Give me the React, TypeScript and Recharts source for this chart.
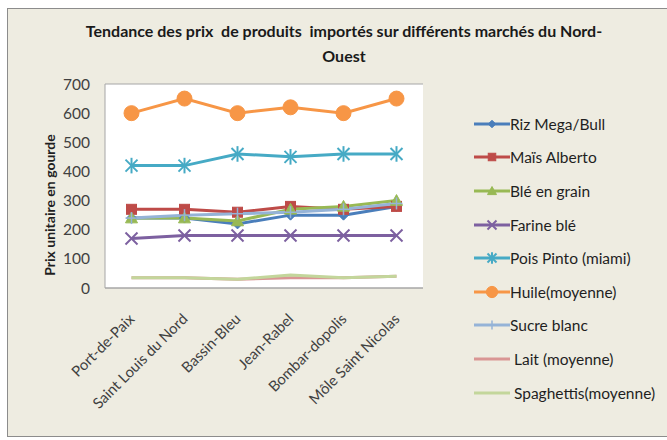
import React from 'react';
import { LineChart, Line, XAxis, YAxis, CartesianGrid, Legend } from 'recharts';

const markets = ['Port-de-Paix', 'Saint Louis du Nord', 'Bassin-Bleu', 'Jean-Rabel', 'Bombar-dopolis', 'Môle Saint Nicolas'];
const rizMegaBull = [240, 240, 220, 250, 250, 280];
const maisAlberto = [270, 270, 260, 280, 270, 280];
const bleEnGrain = [240, 240, 230, 270, 280, 300];
const farineBle = [170, 180, 180, 180, 180, 180];
const poisPinto = [420, 420, 460, 450, 460, 460];
const huileMoyenne = [600, 650, 600, 620, 600, 650];
const sucreBlanc = [240, 250, 255, 260, 270, 290];
const laitMoyenne = [35, 35, 30, 35, 35, 40];
const spaghettisMoyenne = [35, 35, 30, 45, 35, 40];
const yTicks = [0, 100, 200, 300, 400, 500, 600, 700];

const titleLine1 = 'Tendance des prix  de produits  importés sur différents marchés du Nord-';
const titleLine2 = 'Ouest';
const yLabel = 'Prix unitaire en gourde';

type Series = { key: string; name: string; values: number[]; color: string; marker: string };
const series: Series[] = [
  { key: 'riz', name: 'Riz Mega/Bull', values: rizMegaBull, color: '#4A7EBB', marker: 'diamond' },
  { key: 'mais', name: 'Maïs Alberto', values: maisAlberto, color: '#BE4B48', marker: 'square' },
  { key: 'ble', name: 'Blé en grain', values: bleEnGrain, color: '#98B954', marker: 'triangle' },
  { key: 'farine', name: 'Farine blé', values: farineBle, color: '#7D60A0', marker: 'x' },
  { key: 'pois', name: 'Pois Pinto (miami)', values: poisPinto, color: '#46AAC5', marker: 'star' },
  { key: 'huile', name: 'Huile(moyenne)', values: huileMoyenne, color: '#F79646', marker: 'circle' },
  { key: 'sucre', name: 'Sucre blanc', values: sucreBlanc, color: '#95B3D7', marker: 'plus' },
  { key: 'lait', name: ' Lait (moyenne)', values: laitMoyenne, color: '#D99694', marker: 'none' },
  { key: 'spag', name: ' Spaghettis(moyenne)', values: spaghettisMoyenne, color: '#C3D69B', marker: 'none' },
];

const data = markets.map((m, i) => {
  const row: Record<string, string | number> = { market: m };
  series.forEach((s) => { row[s.key] = s.values[i]; });
  return row;
});

const FONT = 'Lato, "Open Sans", sans-serif';

function Marker({ type, cx, cy, color, k }: { type: string; cx: number; cy: number; color: string; k: number }) {
  if (cx == null || cy == null) return null;
  switch (type) {
    case 'diamond': {
      const r = 5 * k;
      return <polygon points={`${cx},${cy - r} ${cx + r},${cy} ${cx},${cy + r} ${cx - r},${cy}`} fill={color} stroke={color} />;
    }
    case 'square': {
      const r = 5 * k;
      return <rect x={cx - r} y={cy - r} width={2 * r} height={2 * r} fill={color} stroke={color} />;
    }
    case 'triangle': {
      const r = 6 * k;
      return <polygon points={`${cx},${cy - r} ${cx + r},${cy + r * 0.8} ${cx - r},${cy + r * 0.8}`} fill={color} stroke={color} />;
    }
    case 'x': {
      const r = 6 * k;
      return (
        <g stroke={color} strokeWidth={2}>
          <line x1={cx - r} y1={cy - r} x2={cx + r} y2={cy + r} />
          <line x1={cx - r} y1={cy + r} x2={cx + r} y2={cy - r} />
        </g>
      );
    }
    case 'star': {
      const r = 6 * k;
      return (
        <g stroke={color} strokeWidth={2}>
          <line x1={cx - r} y1={cy - r} x2={cx + r} y2={cy + r} />
          <line x1={cx - r} y1={cy + r} x2={cx + r} y2={cy - r} />
          <line x1={cx} y1={cy - r * 1.3} x2={cx} y2={cy + r * 1.3} />
        </g>
      );
    }
    case 'circle':
      return <circle cx={cx} cy={cy} r={7.5 * k} fill={color} stroke={color} />;
    case 'plus': {
      const r = 6 * k;
      return (
        <g stroke={color} strokeWidth={1.5}>
          <line x1={cx - r} y1={cy} x2={cx + r} y2={cy} />
          <line x1={cx} y1={cy - r} x2={cx} y2={cy + r} />
        </g>
      );
    }
    default:
      return null;
  }
}

function XTick(props: any) {
  const { x, y, payload } = props;
  const tx = x + 4;
  const ty = y + 24;
  return (
    <text x={tx} y={ty} transform={`rotate(-45 ${tx} ${ty})`} textAnchor="end" fontSize={14.8} fill="#404040" fontFamily={FONT}>
      {payload.value}
    </text>
  );
}

function LegendContent() {
  return (
    <div style={{ fontFamily: FONT, fontSize: 15.5, color: '#1f1f1f' }}>
      {series.map((s) => (
        <div key={s.key} style={{ display: 'flex', alignItems: 'center', height: 33.6 }}>
          <svg width={38} height={16} style={{ display: 'block' }}>
            <line x1={2} y1={8} x2={38} y2={8} stroke={s.color} strokeWidth={3} />
            <Marker type={s.marker} cx={20} cy={8} color={s.color} k={0.75} />
          </svg>
          <span style={{ whiteSpace: 'pre' }}>{s.name}</span>
        </div>
      ))}
    </div>
  );
}

export default function App() {
  return (
    <div style={{ position: 'absolute', left: 0, top: 0, width: 667, height: 440, background: '#fff' }}>
      <div
        style={{
          position: 'absolute', left: 7, top: 8, width: 670, height: 427,
          background: '#EEECE1', border: '1px solid #8C8C8C',
        }}
      />
      <div
        style={{
          position: 'absolute', left: 0, top: 18, width: 688, textAlign: 'center',
          fontFamily: FONT, fontWeight: 700, fontSize: 16, color: '#1a1a1a', whiteSpace: 'pre', lineHeight: '25px',
        }}
      >
        {titleLine1}
        {'\n'}
        {titleLine2}
      </div>
      <div style={{ position: 'absolute', left: 0, top: 0 }}>
        <LineChart width={667} height={440} data={data} margin={{ top: 84, right: 244, bottom: 40, left: 35 }}>
          <CartesianGrid horizontal vertical={false} fill="#FFFFFF" stroke="#A6A6A6" />
          <XAxis
            dataKey="market"
            height={112}
            interval={0}
            padding={{ left: 26.5, right: 26.5 }}
            tickLine={false}
            axisLine={{ stroke: '#A6A6A6' }}
            tick={<XTick />}
          />
          <YAxis
            yAxisId="left"
            domain={[0, 700]}
            ticks={yTicks}
            width={70}
            tickLine={false}
            tickSize={8}
            tickMargin={7}
            axisLine={{ stroke: '#A6A6A6' }}
            tick={{ fontSize: 15.5, fill: '#404040', fontFamily: FONT }}
            label={{
              value: yLabel,
              content: () => (
                <text x={51} y={205} transform="rotate(-90 51 205)" textAnchor="middle" dominantBaseline="middle"
                  fontFamily={FONT} fontWeight={700} fontSize={14} fill="#1f1f1f">
                  {yLabel}
                </text>
              ),
            }}
          />
          <YAxis yAxisId="right" orientation="right" domain={[0, 700]} ticks={yTicks} width={0} tick={false} tickLine={false} axisLine={{ stroke: '#A6A6A6' }} />
          <Legend
            layout="vertical"
            align="center"
            verticalAlign="middle"
            wrapperStyle={{ position: 'absolute', left: 472, top: 107, width: 200 }}
            content={() => <LegendContent />}
          />
          {series.map((s) => (
            <Line
              key={s.key}
              yAxisId="left"
              type="linear"
              dataKey={s.key}
              name={s.name}
              stroke={s.color}
              strokeWidth={3}
              isAnimationActive={false}
              dot={(p: any) => <Marker key={`${s.key}-${p.index}`} type={s.marker} cx={p.cx} cy={p.cy} color={s.color} k={1} />}
              activeDot={false}
            />
          ))}
        </LineChart>
      </div>
    </div>
  );
}
